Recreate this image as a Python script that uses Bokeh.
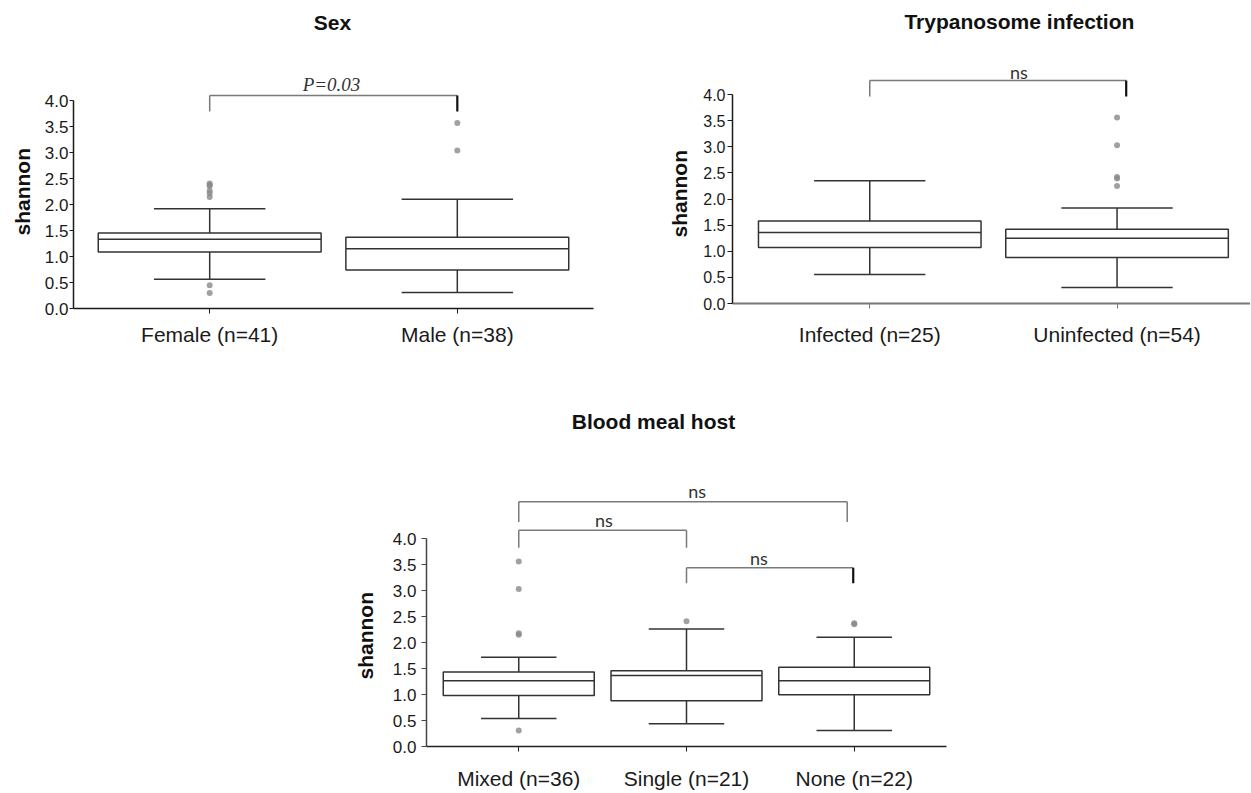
from bokeh.plotting import figure
from bokeh.models import (ColumnDataSource, FixedTicker, Label, Spacer,
                          NumeralTickFormatter, Title)
from bokeh.layouts import column, row
from bokeh.embed import file_html
from bokeh.resources import INLINE

# ---------------- data ----------------
y_ticks = [0.0, 0.5, 1.0, 1.5, 2.0, 2.5, 3.0, 3.5, 4.0]
y_label = "shannon"

sex_title = "Sex"
sex_cats = ["Female (n=41)", "Male (n=38)"]
sex_q1 = [1.09, 0.74]
sex_med = [1.335, 1.15]
sex_q3 = [1.457, 1.374]
sex_lo = [0.565, 0.308]
sex_hi = [1.92, 2.106]
sex_out_cat = [0, 0, 0, 0, 0, 0, 0, 0, 1, 1]
sex_out_val = [2.41, 2.38, 2.36, 2.27, 2.22, 2.15, 0.45, 0.30, 3.576, 3.044]

tryp_title = "Trypanosome infection"
tryp_cats = ["Infected (n=25)", "Uninfected (n=54)"]
tryp_q1 = [1.07, 0.88]
tryp_med = [1.36, 1.25]
tryp_q3 = [1.58, 1.42]
tryp_lo = [0.555, 0.306]
tryp_hi = [2.35, 1.83]
tryp_out_cat = [1, 1, 1, 1, 1]
tryp_out_val = [3.56, 3.03, 2.42, 2.39, 2.25]

blood_title = "Blood meal host"
blood_cats = ["Mixed (n=36)", "Single (n=21)", "None (n=22)"]
blood_q1 = [0.98, 0.88, 0.995]
blood_med = [1.263, 1.365, 1.263]
blood_q3 = [1.435, 1.455, 1.523]
blood_lo = [0.54, 0.44, 0.31]
blood_hi = [1.715, 2.26, 2.10]
blood_out_cat = [0, 0, 0, 0, 0, 1, 2, 2]
blood_out_val = [0.31, 2.15, 2.18, 3.03, 3.56, 2.41, 2.37, 2.35]

# comparisons: (left category, right category, bar level, leg bottom, label)
sex_cmp = [(0, 1, 4.104, 3.796, "P=0.03")]
tryp_cmp = [(0, 1.037, 4.268, 3.96, "ns")]
blood_cmp = [(0, 1.958, 4.708, 4.32, "ns"),
             (0, 1.0, 4.159, 3.822, "ns"),
             (1.0, 1.994, 3.44, 3.139, "ns")]

SANS = "Liberation Sans"
BOX = "#333333"


def panel(cats, q1, med, q3, lo, hi, out_c, out_v, *, width, height, left, right,
          bottom, x_range, y_end, cat_standoff, cat_size, tick_size, tick_out,
          tick_standoff, xaxis_color, xaxis_w, yaxis_color, yaxis_w,
          lab_offset, lab_standoff):
    p = figure(width=width, height=height, x_range=x_range, y_range=(0, y_end),
               output_backend="svg", toolbar_location=None, title=None,
               min_border_left=left, min_border_right=right, min_border_top=0,
               min_border_bottom=bottom)
    p.outline_line_color = None
    p.grid.visible = False
    p.background_fill_color = "white"
    p.border_fill_color = "white"
    xs = list(range(len(cats)))
    src = ColumnDataSource(dict(
        x=xs, q1=q1, med=med, q3=q3, lo=lo, hi=hi,
        bl=[x - 0.45 for x in xs], br=[x + 0.45 for x in xs],
        cl=[x - 0.225 for x in xs], cr=[x + 0.225 for x in xs]))
    p.segment(x0="x", y0="q3", x1="x", y1="hi", source=src, line_color=BOX, line_width=1.5)
    p.segment(x0="x", y0="q1", x1="x", y1="lo", source=src, line_color=BOX, line_width=1.5)
    p.segment(x0="cl", y0="hi", x1="cr", y1="hi", source=src, line_color=BOX, line_width=1.5)
    p.segment(x0="cl", y0="lo", x1="cr", y1="lo", source=src, line_color=BOX, line_width=1.5)
    p.vbar(x="x", width=0.9, bottom="q1", top="q3", source=src, fill_color="white",
           line_color=BOX, line_width=1.5)
    p.segment(x0="bl", y0="med", x1="br", y1="med", source=src, line_color=BOX, line_width=1.5)
    p.scatter(x=out_c, y=out_v, size=6, fill_color="#8a8a8a", fill_alpha=0.8, line_color=None)

    p.yaxis.ticker = FixedTicker(ticks=y_ticks)
    p.yaxis.formatter = NumeralTickFormatter(format="0.0")
    p.yaxis.bounds = (0, 4)
    p.xaxis.ticker = FixedTicker(ticks=xs)
    p.xaxis.major_label_overrides = {i: c for i, c in enumerate(cats)}
    for ax in (p.xaxis[0], p.yaxis[0]):
        ax.minor_tick_line_color = None
        ax.major_tick_in = 0
        ax.major_label_text_font = SANS
        ax.major_label_text_color = "#1a1a1a"
    p.xaxis.major_tick_out = 5
    p.yaxis.major_tick_out = tick_out
    p.xaxis.axis_line_color = xaxis_color
    p.xaxis.axis_line_width = xaxis_w
    p.xaxis.major_tick_line_color = xaxis_color
    p.yaxis.axis_line_color = yaxis_color
    p.yaxis.axis_line_width = yaxis_w
    p.yaxis.major_tick_line_color = yaxis_color
    p.xaxis.major_label_text_font_size = cat_size
    p.xaxis.major_label_standoff = cat_standoff
    p.yaxis.major_label_text_font_size = tick_size
    p.yaxis.major_label_standoff = tick_standoff
    # y-axis title, placed beside the axis
    p.add_layout(Title(text=y_label, align="left", offset=lab_offset,
                       standoff=lab_standoff, vertical_align="bottom",
                       text_font=SANS, text_font_size="21px",
                       text_font_style="bold", text_color="#111111"), "left")
    return p


def brackets(p, cmps, thick_right):
    for k, (a, b, lvl, leg, txt) in enumerate(cmps):
        src = ColumnDataSource(dict(x0=[a, a], y0=[lvl, lvl], x1=[b, a], y1=[lvl, leg]))
        p.segment(x0="x0", y0="y0", x1="x1", y1="y1", source=src,
                  line_color="#7a7a7a", line_width=1.5)
        rc, rw = ("#111111", 2.2) if thick_right[k] else ("#7a7a7a", 1.5)
        p.segment(x0=[b], y0=[lvl], x1=[b], y1=[leg], line_color=rc, line_width=rw)


def label(p, x, y, text, font=SANS, size="21px", style="bold", color="#111111"):
    p.add_layout(Label(x=x, y=y, text=text, text_font=font, text_font_size=size,
                       text_font_style=style, text_color=color,
                       text_align="center", text_baseline="middle"))


NS = dict(font="Lato", size="18px", style="normal", color="#333333")

# ---------------- panel 1: Sex ----------------
f1 = panel(sex_cats, sex_q1, sex_med, sex_q3, sex_lo, sex_hi, sex_out_cat, sex_out_val,
           width=623, height=355, left=73, right=30, bottom=52,
           x_range=(-0.55, 1.55), y_end=303 / 51.9, cat_standoff=9,
           cat_size="21px", tick_size="17px", tick_out=4, tick_standoff=1,
           xaxis_color="#1a1a1a", xaxis_w=1.5, yaxis_color="#1a1a1a", yaxis_w=1.5,
           lab_offset=73, lab_standoff=15)
brackets(f1, sex_cmp, [True])
label(f1, 0.496, (303 - 17) / 51.9, sex_title)
label(f1, 0.492, 4.316, sex_cmp[0][4], font="Liberation Serif", size="19px",
      style="italic", color="#333333")

# ---------------- panel 2: Trypanosome infection ----------------
f2 = panel(tryp_cats, tryp_q1, tryp_med, tryp_q3, tryp_lo, tryp_hi, tryp_out_cat, tryp_out_val,
           width=627, height=360, left=109, right=0, bottom=57,
           x_range=(-0.555, -0.555 + 518 / 247.3), y_end=303 / 52.25, cat_standoff=14,
           cat_size="21px", tick_size="16px", tick_out=5, tick_standoff=2,
           xaxis_color="#777777", xaxis_w=2, yaxis_color="#1a1a1a", yaxis_w=1.5,
           lab_offset=66, lab_standoff=19)
brackets(f2, tryp_cmp, [True])
label(f2, 0.605, 5.401, tryp_title)
label(f2, 0.603, 4.431, tryp_cmp[0][4], **NS)

# ---------------- panel 3: Blood meal host ----------------
f3 = panel(blood_cats, blood_q1, blood_med, blood_q3, blood_lo, blood_hi, blood_out_cat,
           blood_out_val, width=630, height=432, left=90, right=20, bottom=44,
           x_range=(-0.55, 2.55), y_end=388 / 52.25, cat_standoff=15,
           cat_size="21px", tick_size="17px", tick_out=5, tick_standoff=5,
           xaxis_color="#222222", xaxis_w=1.5, yaxis_color="#444444", yaxis_w=1.5,
           lab_offset=67, lab_standoff=26)
brackets(f3, blood_cmp, [False, False, True])
label(f3, 0.803, 6.249, blood_title)
label(f3, 1.064, 4.909, blood_cmp[0][4], **NS)
label(f3, 0.507, 4.354, blood_cmp[1][4], **NS)
label(f3, 1.431, 3.627, blood_cmp[2][4], **NS)

layout = column(row(column(Spacer(width=623, height=5), f1), f2),
                row(Spacer(width=336, height=432), f3))

open("out.html", "w").write(file_html(layout, INLINE))
